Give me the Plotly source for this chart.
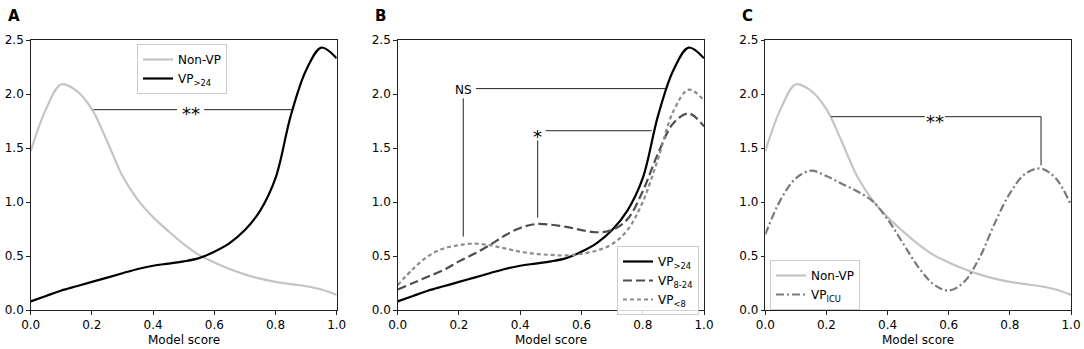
import plotly.graph_objects as go

# ---------------- data ----------------
score = [0.0, 0.05, 0.1, 0.15, 0.2, 0.25, 0.3, 0.35, 0.4, 0.45, 0.5,
         0.55, 0.6, 0.65, 0.7, 0.75, 0.8, 0.85, 0.9, 0.95, 1.0]

non_vp = [1.47, 1.86, 2.09, 2.03, 1.86, 1.56, 1.24, 1.02, 0.86, 0.73, 0.61,
          0.51, 0.44, 0.38, 0.33, 0.29, 0.26, 0.24, 0.22, 0.19, 0.14]
vp_gt24 = [0.08, 0.13, 0.18, 0.22, 0.26, 0.30, 0.34, 0.38, 0.41, 0.43, 0.45,
           0.48, 0.54, 0.62, 0.74, 0.92, 1.22, 1.80, 2.22, 2.43, 2.33]
vp_8_24 = [0.19, 0.25, 0.31, 0.37, 0.45, 0.52, 0.60, 0.69, 0.76, 0.795, 0.79,
           0.77, 0.74, 0.72, 0.74, 0.84, 1.10, 1.45, 1.73, 1.82, 1.70]
vp_lt8 = [0.23, 0.38, 0.50, 0.57, 0.60, 0.615, 0.60, 0.57, 0.54, 0.52, 0.51,
          0.505, 0.52, 0.55, 0.61, 0.74, 1.00, 1.40, 1.84, 2.04, 1.94]
vp_icu = [0.70, 1.02, 1.22, 1.29, 1.24, 1.17, 1.10, 1.01, 0.84, 0.62, 0.40,
          0.24, 0.18, 0.26, 0.48, 0.80, 1.08, 1.26, 1.31, 1.22, 0.97]

x_ticks = [0.0, 0.2, 0.4, 0.6, 0.8, 1.0]
y_ticks = [0.0, 0.5, 1.0, 1.5, 2.0, 2.5]
panel_labels = ["A", "B", "C"]
x_title = "Model score"

# significance brackets (data coords of each panel)
sig_A = dict(label="**", x=0.524, y=1.855, segs=[(0.205, 0.478), (0.567, 0.854)])
sig_B_ns = dict(label="NS", x=0.214, y=2.05, h=(0.256, 0.873), v=(1.96, 0.68))
sig_B_star = dict(label="*", x=0.457, y=1.66, h=(0.483, 0.829), v=(1.57, 0.855))
sig_C = dict(label="**", x=0.555, y=1.79, segs=[(0.215, 0.522), (0.588, 0.902)], vx=0.902, vy=1.34)

# ---------------- layout geometry ----------------
W, H = 1084, 349
px_dom = [(30.7, 336.7), (397.7, 704.0), (765.3, 1071.0)]
y_top, y_bot = 40, 310
FONT = "DejaVu Sans, Liberation Sans, sans-serif"
FS = 12

fig = go.Figure()

C_NONVP = "#c4c4c4"
C_BLACK = "#000000"
C_8_24 = "#4d4d4d"
C_LT8 = "#8c8c8c"
C_ICU = "#7a7a7a"

def add(x, y, name, color, dash, axis, legend, width=2.2):
    fig.add_trace(go.Scatter(
        x=x, y=y, name=name, mode="lines",
        line=dict(color=color, width=width, dash=dash, shape="spline", smoothing=1.0),
        xaxis="x" + axis, yaxis="y" + axis, legend=legend))

# Panel A
add(score, non_vp, "Non-VP", C_NONVP, "solid", "", "legend")
add(score, vp_gt24, "VP<sub>&gt;24</sub>", C_BLACK, "solid", "", "legend")
# Panel B
add(score, vp_gt24, "VP<sub>&gt;24</sub>", C_BLACK, "solid", "2", "legend2")
add(score, vp_8_24, "VP<sub>8-24</sub>", C_8_24, "9px,4px", "2", "legend2")
add(score, vp_lt8, "VP<sub>&lt;8</sub>", C_LT8, "4px,3px", "2", "legend2")
# Panel C
add(score, non_vp, "Non-VP", C_NONVP, "solid", "3", "legend3")
add(score, vp_icu, "VP<sub>ICU</sub>", C_ICU, "8px,3px,2px,3px", "3", "legend3")

axis_common = dict(
    range=[0, 1], showgrid=False, zeroline=False, automargin=False,
    showline=True, linecolor="#222", linewidth=1, mirror=True,
    ticks="outside", ticklen=3.5, tickcolor="#222", tickwidth=1,
    tickfont=dict(family=FONT, size=FS, color="#000"),
)

layout = dict(
    width=W, height=H, margin=dict(l=0, r=0, t=0, b=0, autoexpand=False),
    paper_bgcolor="white", plot_bgcolor="white",
    font=dict(family=FONT, size=FS, color="#000"),
)

ydom = [1 - y_bot / H, 1 - y_top / H]
for i, (l, r) in enumerate(px_dom):
    suf = "" if i == 0 else str(i + 1)
    layout["xaxis" + suf] = dict(
        axis_common, domain=[l / W, r / W], anchor="y" + suf,
        tickvals=x_ticks, ticktext=[f"{v:.1f}" for v in x_ticks])
    layout["yaxis" + suf] = dict(
        axis_common, range=[0, 2.5], domain=ydom, anchor="x" + suf,
        tickvals=y_ticks, ticktext=[f"{v:.1f}" for v in y_ticks])

legend_common = dict(
    bgcolor="rgba(255,255,255,0.8)", bordercolor="#cccccc", borderwidth=1,
    font=dict(family=FONT, size=FS, color="#000"),
    yanchor="top", tracegroupgap=0, itemwidth=30,
)
layout["legend"] = dict(legend_common, x=137 / W, xanchor="left", y=1 - 44 / H)
layout["legend2"] = dict(legend_common, x=699 / W, xanchor="right", y=1 - 246 / H)
layout["legend3"] = dict(legend_common, x=770 / W, xanchor="left", y=1 - 260 / H)

fig.update_layout(**layout)

# panel letters and x-axis titles
for i, (l, r) in enumerate(px_dom):
    fig.add_annotation(text=f"<b>{panel_labels[i]}</b>", xref="paper", yref="paper",
                       x=(l - 25) / W, y=1 - 5 / H, xanchor="left", yanchor="top",
                       showarrow=False, font=dict(family=FONT, size=15, color="#000"))
    fig.add_annotation(text=x_title, xref="paper", yref="paper",
                       x=(l + r) / 2 / W, y=1 - 340 / H, xanchor="center", yanchor="middle",
                       showarrow=False, font=dict(family=FONT, size=FS, color="#000"))

LINE = dict(color="#222", width=1)

def hline(ax, x0, x1, y):
    fig.add_shape(type="line", xref="x" + ax, yref="y" + ax, x0=x0, x1=x1, y0=y, y1=y, line=LINE)

def vline(ax, x, y0, y1):
    fig.add_shape(type="line", xref="x" + ax, yref="y" + ax, x0=x, x1=x, y0=y0, y1=y1, line=LINE)

def label(ax, text, x, y, size):
    fig.add_annotation(text=text, xref="x" + ax, yref="y" + ax, x=x, y=y, showarrow=False,
                       font=dict(family=FONT, size=size, color="#000"))

# Panel A bracket
for s0, s1 in sig_A["segs"]:
    hline("", s0, s1, sig_A["y"])
label("", sig_A["label"], sig_A["x"], sig_A["y"] - 0.04, 18)

# Panel B brackets
hline("2", sig_B_ns["h"][0], sig_B_ns["h"][1], sig_B_ns["y"])
vline("2", sig_B_ns["x"], sig_B_ns["v"][0], sig_B_ns["v"][1])
label("2", sig_B_ns["label"], sig_B_ns["x"], sig_B_ns["y"] - 0.01, 12)
hline("2", sig_B_star["h"][0], sig_B_star["h"][1], sig_B_star["y"])
vline("2", sig_B_star["x"], sig_B_star["v"][0], sig_B_star["v"][1])
label("2", sig_B_star["label"], sig_B_star["x"], sig_B_star["y"] - 0.05, 18)

# Panel C bracket
for s0, s1 in sig_C["segs"]:
    hline("3", s0, s1, sig_C["y"])
vline("3", sig_C["vx"], sig_C["y"], sig_C["vy"])
label("3", sig_C["label"], sig_C["x"], sig_C["y"] - 0.04, 18)

fig.write_html("out.html", config={"displayModeBar": False},
               post_script="document.body.style.margin='0';document.body.style.overflow='hidden';")
